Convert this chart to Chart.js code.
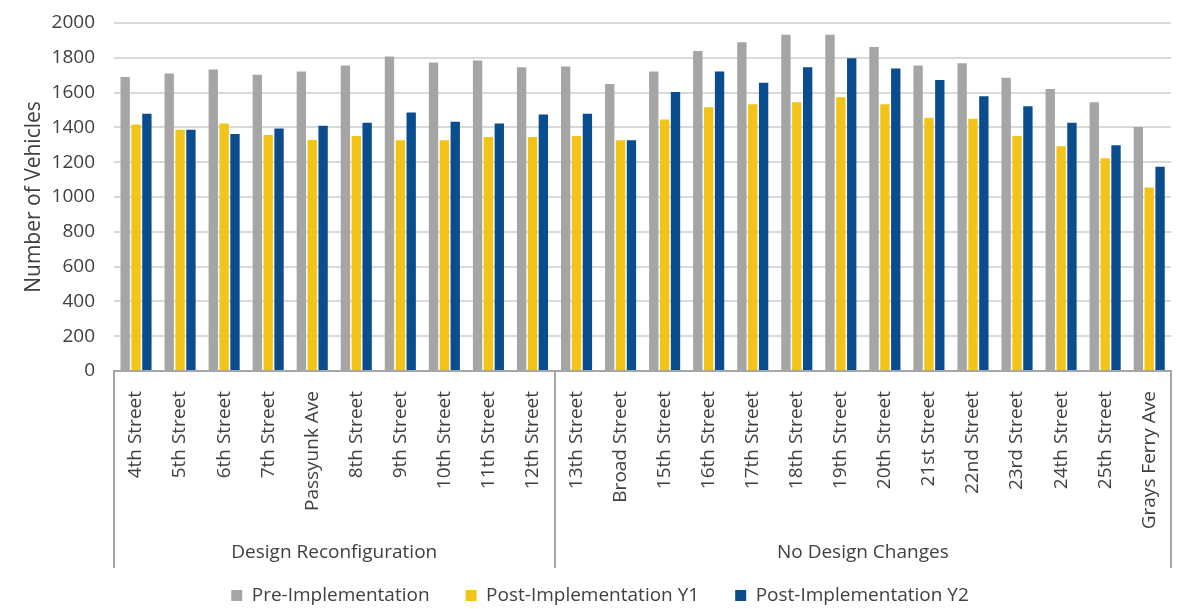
<!DOCTYPE html>
<html>
<head>
<meta charset="utf-8">
<script src="https://cdn.jsdelivr.net/npm/chart.js@4.4.1/dist/chart.umd.min.js"></script>
<style>
    html, body { margin: 0; padding: 0; background: #ffffff; }
    #wrap { width: 1184px; height: 609px; }
</style>
</head>
<body>
<div id="wrap"><canvas id="vehicleChart" width="1184" height="609"></canvas></div>
<script>
const streets = [
    '4th Street', '5th Street', '6th Street', '7th Street', 'Passyunk Ave',
    '8th Street', '9th Street', '10th Street', '11th Street', '12th Street',
    '13th Street', 'Broad Street', '15th Street', '16th Street', '17th Street',
    '18th Street', '19th Street', '20th Street', '21st Street', '22nd Street',
    '23rd Street', '24th Street', '25th Street', 'Grays Ferry Ave'
];
const preImplementation = [
    1690, 1710, 1733, 1702, 1721, 1756, 1808, 1773, 1785, 1745,
    1750, 1650, 1721, 1839, 1890, 1933, 1933, 1862, 1756, 1768,
    1685, 1620, 1545, 1402
];
const postY1 = [
    1416, 1387, 1422, 1356, 1327, 1350, 1326, 1326, 1345, 1345,
    1350, 1326, 1445, 1516, 1533, 1545, 1573, 1533, 1456, 1450,
    1350, 1291, 1222, 1055
];
const postY2 = [
    1479, 1387, 1362, 1393, 1410, 1427, 1485, 1433, 1422, 1474,
    1479, 1326, 1604, 1721, 1656, 1745, 1798, 1739, 1673, 1579,
    1522, 1427, 1297, 1174
];
const groupNames = ['Design Reconfiguration', 'No Design Changes'];
const groupSizes = [10, 14];
const yMin = 0;
const yMax = 2000;
const yStep = 200;

const textColor = '#404040';
const axisColor = '#a6a6a6';

Chart.defaults.font.family = "'Open Sans', sans-serif";
Chart.defaults.color = textColor;

// second level of the category axis: group names + separator lines
const groupAxis = {
    id: 'groupAxis',
    afterDraw(chart) {
        const { ctx, chartArea } = chart;
        const x = chart.scales.x;
        const half = (x.getPixelForValue(1) - x.getPixelForValue(0)) / 2;
        const lineBottom = chartArea.bottom + 197;
        ctx.save();
        ctx.strokeStyle = axisColor;
        ctx.lineWidth = 2;
        ctx.fillStyle = textColor;
        ctx.font = "19px 'Open Sans', sans-serif";
        ctx.textAlign = 'center';
        ctx.textBaseline = 'middle';
        let start = 0;
        groupSizes.forEach((size, i) => {
            const left = x.getPixelForValue(start) - half;
            const right = x.getPixelForValue(start + size - 1) + half;
            [left, right].forEach(px => {
                const lx = Math.min(Math.round(px), chart.width - 1);
                ctx.beginPath();
                ctx.moveTo(lx, chartArea.bottom);
                ctx.lineTo(lx, lineBottom);
                ctx.stroke();
            });
            ctx.fillText(groupNames[i], (left + right) / 2, chartArea.bottom + 182);
            start += size;
        });
        ctx.restore();
    }
};

const ctx = document.getElementById('vehicleChart').getContext('2d');
new Chart(ctx, {
    type: 'bar',
    data: {
        labels: streets,
        datasets: [
            { label: 'Pre-Implementation', data: preImplementation, backgroundColor: '#a5a5a5' },
            { label: 'Post-Implementation Y1', data: postY1, backgroundColor: '#f2c418' },
            { label: 'Post-Implementation Y2', data: postY2, backgroundColor: '#0a4d8e' }
        ]
    },
    options: {
        responsive: false,
        animation: false,
        devicePixelRatio: 1,
        datasets: {
            bar: { categoryPercentage: 0.74, barPercentage: 0.86 }
        },
        layout: { padding: { top: 23, right: 0, bottom: -6, left: 16 } },
        scales: {
            x: {
                grid: { display: false },
                border: { color: axisColor, width: 2 },
                ticks: {
                    autoSkip: false,
                    minRotation: 90,
                    maxRotation: 90,
                    padding: 12,
                    font: { size: 19 },
                    color: textColor
                },
                afterFit(scale) { scale.height = 179; }
            },
            y: {
                min: yMin,
                max: yMax,
                ticks: {
                    stepSize: yStep,
                    padding: 19,
                    font: { size: 19 },
                    color: textColor,
                    callback: value => String(value)
                },
                grid: { color: '#d9d9d9', lineWidth: 2, drawTicks: false },
                border: { display: false },
                title: {
                    display: true,
                    text: 'Number of Vehicles',
                    font: { size: 21 },
                    color: textColor,
                    padding: { top: 5, bottom: 4 }
                },
                afterFit(scale) {
                    scale.width = 98;
                    scale.paddingTop = 0;
                    scale.paddingBottom = 0;
                }
            }
        },
        plugins: {
            legend: {
                position: 'bottom',
                labels: {
                    boxWidth: 11,
                    boxHeight: 11,
                    padding: 36,
                    font: { size: 19 },
                    color: textColor
                }
            },
            tooltip: { enabled: false }
        }
    },
    plugins: [groupAxis]
});
</script>
</body>
</html>
